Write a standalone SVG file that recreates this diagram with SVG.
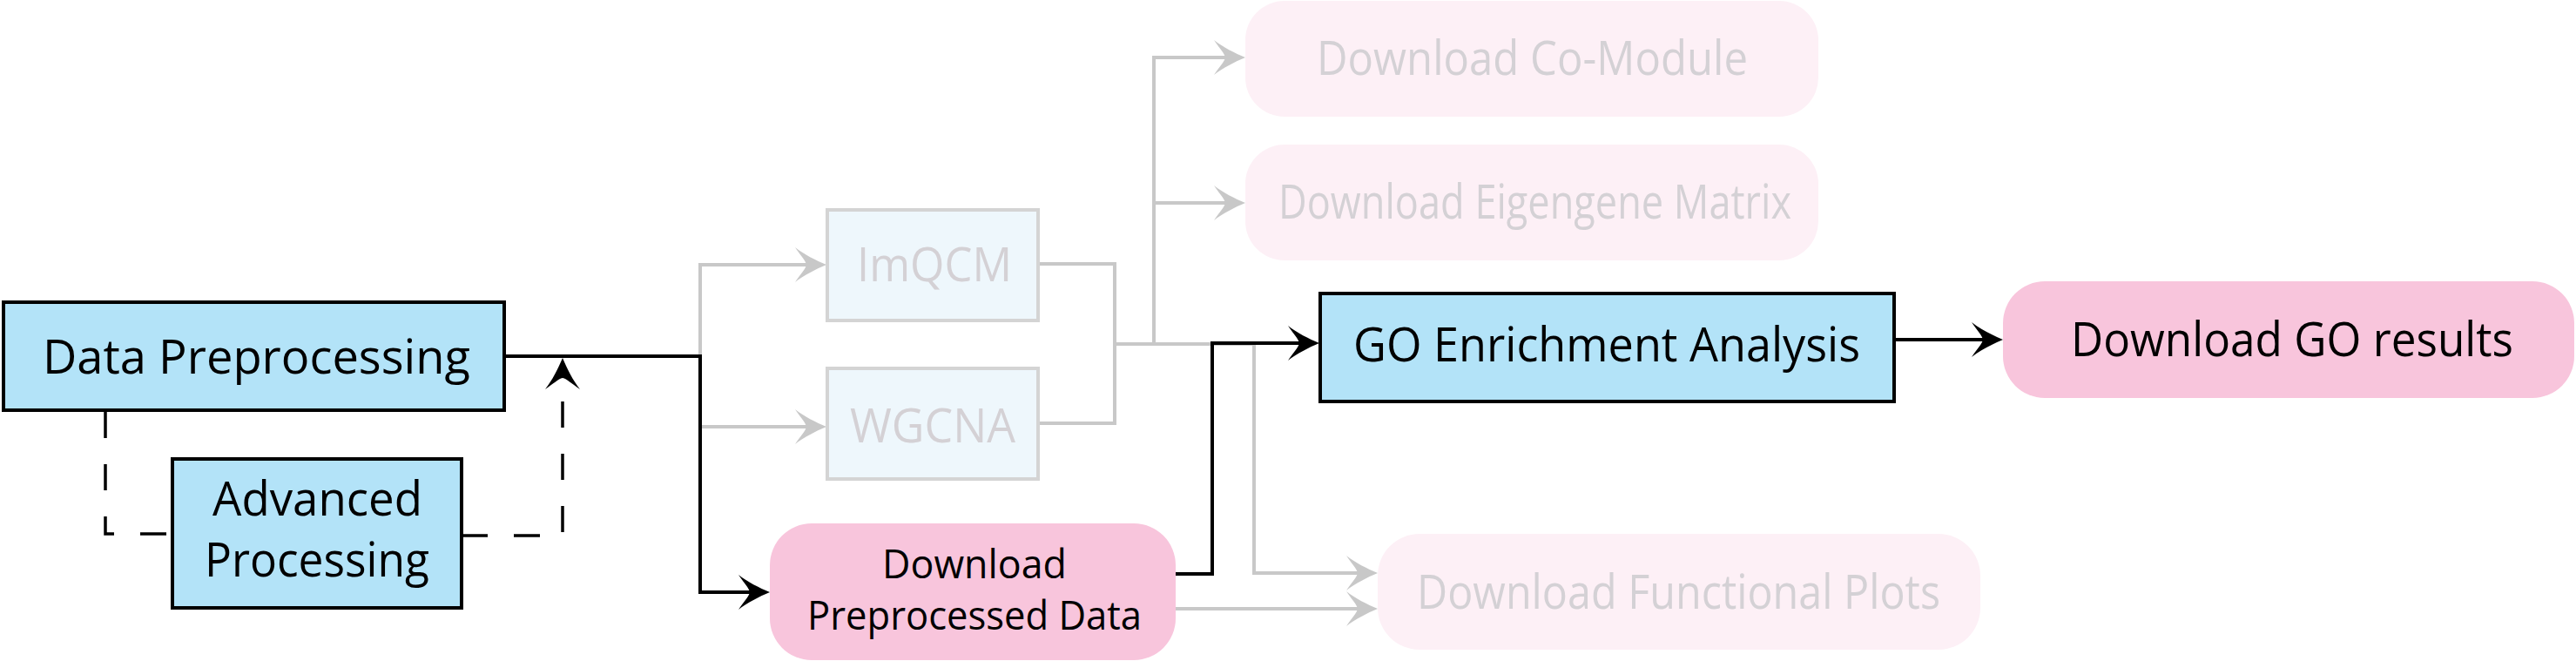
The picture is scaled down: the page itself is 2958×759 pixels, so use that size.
<svg xmlns="http://www.w3.org/2000/svg" xmlns:xlink="http://www.w3.org/1999/xlink" width="2958" height="759" viewBox="0 0 2958 759">
<style>
.blk{fill:none;stroke:#000;stroke-width:4}
.gry{fill:none;stroke:#c8c8c8;stroke-width:4}
.dsh{fill:none;stroke:#000;stroke-width:3.5;stroke-dasharray:30 30}
.blue{fill:#b3e3f8;stroke:#000;stroke-width:4}
.fblue{fill:#eef7fc;stroke:#d4d4d4;stroke-width:4}
.pink{fill:#f8c5dc}
.fpink{fill:#fdf0f6}
.t{font-family:"Open Sans","Liberation Sans",sans-serif;font-size:54px;fill:#000}
.s{font-size:46px}
.f{fill:#d4d1d5}
.ab{fill:#000}
.ag{fill:#c8c8c8}
</style>
<defs>
<path id="ah" d="M0,0 C-12,-5 -26,-12 -36,-20 C-30,-11 -24,-5 -23,0 C-24,5 -30,11 -36,20 C-26,12 -12,5 0,0 Z"/>
</defs>
<rect width="2958" height="759" fill="#fff"/>
<g id="connectors">
<path class="gry" d="M804,409 V304 H930 M804,409 V490 H930"/>
<path class="gry" d="M1192,303 H1280 V486 H1192 M1280,395 H1440"/>
<path class="gry" d="M1325,395 V66 H1410 M1325,233 H1410"/>
<path class="gry" d="M1440,395 V658 H1562 M1350,699 H1562"/>
<use href="#ah" class="ag" transform="translate(949,304)"/>
<use href="#ah" class="ag" transform="translate(949,490)"/>
<use href="#ah" class="ag" transform="translate(1430,66)"/>
<use href="#ah" class="ag" transform="translate(1430,233)"/>
<use href="#ah" class="ag" transform="translate(1582,658)"/>
<use href="#ah" class="ag" transform="translate(1582,699)"/>
<path class="blk" d="M579,409 H804 V680 H865"/>
<path class="blk" d="M1350,659 H1392 V394 H1495"/>
<path class="blk" d="M2175,390 H2280"/>
<use href="#ah" class="ab" transform="translate(884,680)"/>
<use href="#ah" class="ab" transform="translate(1515,394)"/>
<use href="#ah" class="ab" transform="translate(2300,390)"/>
<path class="dsh" d="M121,473 V613 H198"/>
<path class="dsh" d="M530,615 H646 V432"/>
<use href="#ah" class="ab" transform="translate(646,411) rotate(-90)"/>
</g>
<g id="data-preprocessing">
<rect class="blue" x="4" y="347" width="575" height="124"/>
<text class="t" x="49" y="429" textLength="491" lengthAdjust="spacingAndGlyphs">Data Preprocessing</text>
</g>
<g id="advanced-processing">
<rect class="blue" x="198" y="527" width="332" height="171"/>
<text class="t" x="244" y="592" textLength="241" lengthAdjust="spacingAndGlyphs">Advanced</text>
<text class="t" x="235" y="662" textLength="258" lengthAdjust="spacingAndGlyphs">Processing</text>
</g>
<g id="imqcm">
<rect class="fblue" x="950" y="241" width="242" height="127"/>
<text class="t f" x="984" y="323" textLength="178" lengthAdjust="spacingAndGlyphs">ImQCM</text>
</g>
<g id="wgcna">
<rect class="fblue" x="950" y="423" width="242" height="127"/>
<text class="t f" x="976" y="508" textLength="190" lengthAdjust="spacingAndGlyphs">WGCNA</text>
</g>
<g id="download-preprocessed">
<rect class="pink" x="884" y="601" width="466" height="157" rx="48" ry="48"/>
<text class="t s" x="1013" y="664" textLength="212" lengthAdjust="spacingAndGlyphs">Download</text>
<text class="t s" x="927" y="723" textLength="384" lengthAdjust="spacingAndGlyphs">Preprocessed Data</text>
</g>
<g id="download-comodule">
<rect class="fpink" x="1430" y="1" width="658" height="133" rx="45" ry="45"/>
<text class="t f" x="1512" y="86" textLength="495" lengthAdjust="spacingAndGlyphs">Download Co-Module</text>
</g>
<g id="download-eigengene">
<rect class="fpink" x="1430" y="166" width="658" height="133" rx="45" ry="45"/>
<text class="t f" x="1468" y="251" textLength="589" lengthAdjust="spacingAndGlyphs">Download Eigengene Matrix</text>
</g>
<g id="go-enrichment">
<rect class="blue" x="1516" y="337" width="659" height="124"/>
<text class="t" x="1554" y="415" textLength="582" lengthAdjust="spacingAndGlyphs">GO Enrichment Analysis</text>
</g>
<g id="download-go-results">
<rect class="pink" x="2300" y="323" width="656" height="134" rx="48" ry="48"/>
<text class="t" x="2378" y="409" textLength="508" lengthAdjust="spacingAndGlyphs">Download GO results</text>
</g>
<g id="download-functional-plots">
<rect class="fpink" x="1582" y="613" width="692" height="133" rx="48" ry="48"/>
<text class="t f" x="1627" y="699" textLength="601" lengthAdjust="spacingAndGlyphs">Download Functional Plots</text>
</g>
</svg>
